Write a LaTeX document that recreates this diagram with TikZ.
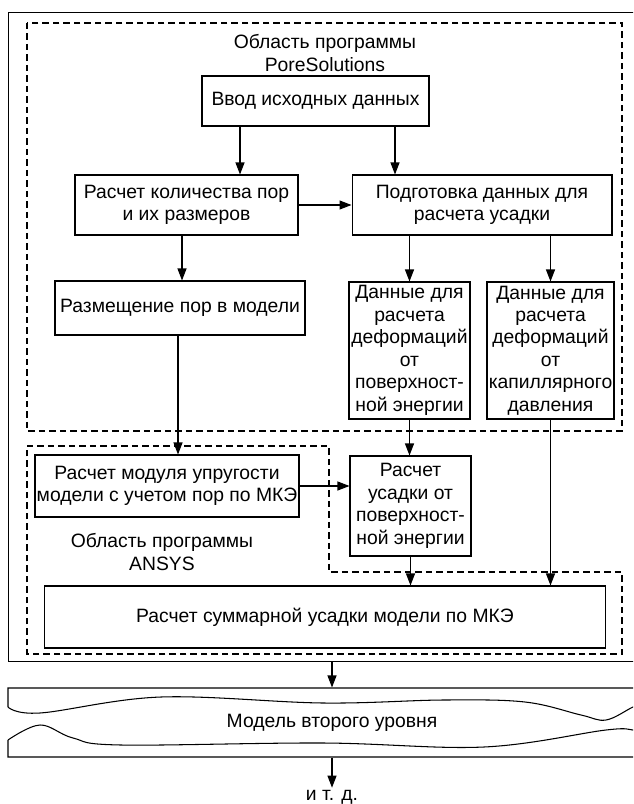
\documentclass[tikz,border=0pt]{standalone}
\usepackage{fontspec}
\setmainfont{Liberation Sans}
\usetikzlibrary {arrows.meta}
\usetikzlibrary {calc}

\tikzset{
    blk/.style={draw, line width=0.6pt, align=center, inner sep=1pt, font=\fontsize{11}{12.8}\selectfont},
    lbl/.style={align=center, inner sep=1pt, font=\fontsize{11}{12.8}\selectfont},
    arr/.style={line width=0.6pt, -{Triangle[length=2.4mm, width=1.8mm]}},
    area/.style={line width=0.6pt, dash pattern=on 1.3mm off 0.8mm},
}

\begin{document}
\begin{tikzpicture}[x=0.02cm, y=-0.02cm, line width=0.6pt]

    \useasboundingbox (0,0) rectangle (633,804);
    \clip (0,0) rectangle (633,804);

    % outer frame of the first level
    \node[draw, line width=0.6pt, minimum width=13.04cm, minimum height=13.0cm] (frame) at (334, 337) {};

    \begin{scope}
        % PoreSolutions
        \draw[area] (27, 23) rectangle (622, 431);
        \node[lbl] (ps) at (325, 53) {Область программы\\PoreSolutions};

        \node[blk, minimum width=4.54cm, minimum height=1.0cm] (inp) at (315.5, 101) {Ввод исходных данных};
        \node[blk, minimum width=4.46cm, minimum height=1.2cm] (cnt) at (186.5, 205) {Расчет количества пор\\и их размеров};
        \node[blk, minimum width=5.2cm, minimum height=1.2cm] (prep) at (482, 205) {Подготовка данных для\\расчета усадки};
        \node[blk, minimum width=5.0cm, minimum height=1.08cm] (place) at (180, 308) {Размещение пор в модели};
        \node[blk, minimum width=2.42cm, minimum height=2.74cm] (dsurf) at (409.5, 350.5) {Данные для\\расчета\\деформаций\\от\\поверхност-\\ной энергии};
        \node[blk, minimum width=2.42cm, minimum height=2.74cm] (dcap) at (550.5, 350.5) {Данные для\\расчета\\деформаций\\от\\капиллярного\\давления};

        \coordinate (c1) at (240, 0);
        \coordinate (c2) at (395, 0);
        \coordinate (c3) at (182, 0);
        \draw[arr] (inp.south -| c1) -- (cnt.north -| c1);
        \draw[arr] (inp.south -| c2) -- (prep.north -| c2);
        \draw[arr] (cnt.east) -- (prep.west);
        \draw[arr] (cnt.south -| c3) -- (place.north -| c3);
        \draw[arr] (prep.south -| dsurf.north) -- (dsurf.north);
        \draw[arr] (prep.south -| dcap.north) -- (dcap.north);
    \end{scope}

    \begin{scope}
        % ANSYS
        \draw[area] (27, 446) -- (329, 446) -- (329, 572) -- (622, 572) -- (622, 654) -- (27, 654) -- cycle;
        \node[lbl] (an) at (162, 552) {Область программы\\ANSYS};

        \node[blk, minimum width=5.28cm, minimum height=1.24cm] (mod) at (167, 486) {Расчет модуля упругости\\модели с учетом пор по МКЭ};
        \node[blk, minimum width=2.42cm, minimum height=2.0cm] (shr) at (410.5, 506) {Расчет\\усадки от\\поверхност-\\ной энергии};
        \node[blk, minimum width=11.24cm, minimum height=1.24cm] (tot) at (325, 617) {Расчет суммарной усадки модели по МКЭ};

        \coordinate (c4) at (178, 0);
        \draw[arr] (place.south -| c4) -- (mod.north -| c4);
        \draw[arr] (dsurf.south) -- (shr.north -| dsurf.south);
        \draw[arr] (mod.east) -- (mod.east -| shr.west);
        \draw[arr] (shr.south) -- (tot.north -| shr.south);
        \draw[arr] (dcap.south) -- (tot.north -| dcap.south);
    \end{scope}

    % second level model, torn band
    \draw (650, 688) -- (8, 688) -- (8, 707)
        plot[smooth, tension=0.6] coordinates {(8, 707) (40, 713) (161, 697) (323, 703) (444, 700) (525, 702) (581, 715) (606, 720) (633, 707) (650, 700)};
    \draw (650, 757) -- (8, 757) -- (8, 740)
        plot[smooth, tension=0.6] coordinates {(8, 740) (40, 725) (73, 738) (121, 745) (323, 743) (484, 747) (606, 730) (633, 730) (650, 731)};
    \node[lbl, minimum height=1.38cm] (band) at (332, 722.5) {Модель второго уровня};
    \node[lbl] (etc) at (332, 797) {и т. д.};

    \draw[arr] (frame.south -| band.north) -- (band.north);
    \draw[arr] (band.south) -- (etc.north);

\end{tikzpicture}
\end{document}
